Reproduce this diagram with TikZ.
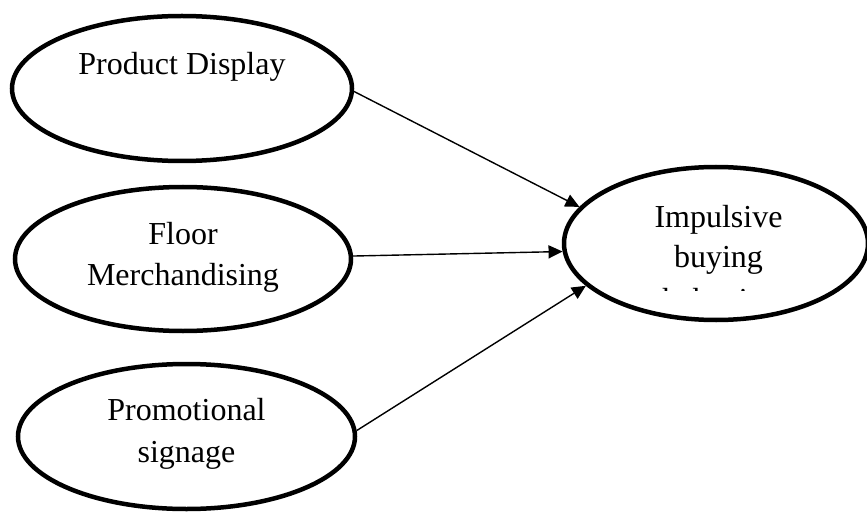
\documentclass[tikz,border=0pt]{standalone}
\usepackage{fontspec}
\setmainfont{Liberation Serif}
\usetikzlibrary{shapes.geometric,arrows.meta}

\tikzset{
  factor/.style={draw=black, line width=4.5pt, ellipse, inner sep=0pt},
  caption/.style={anchor=base, inner sep=0pt, font=\fontsize{32}{40}\selectfont},
  link/.style={line width=1.4pt, -{Triangle[length=14pt,width=13pt]}}
}

\begin{document}
\begin{tikzpicture}[x=1pt, y=-1pt]
  \useasboundingbox (0,0) rectangle (867,513);
  \clip (0,0) rectangle (867,513);

  % independent factors
  \node[factor, minimum width=340pt, minimum height=145pt] (e1) at (182,88.5) {};
  \node[factor, minimum width=336pt, minimum height=144pt] (e2) at (183,259) {};
  \node[factor, minimum width=337pt, minimum height=145pt] (e3) at (186.5,436.5) {};

  % outcome
  \node[factor, minimum width=304pt, minimum height=153pt] (e4) at (716,243.5) {};

  % labels
  \node[caption] (t1)  at (182,75)    {Product Display};
  \node[caption] (t2a) at (183,244)   {Floor};
  \node[caption] (t2b) at (183,285)   {Merchandising};
  \node[caption] (t3a) at (186.5,420) {Promotional};
  \node[caption] (t3b) at (186.5,462) {signage};
  \node[caption] (t4a) at (718.5,227) {Impulsive};
  \node[caption] (t4b) at (718.5,267) {buying};
  \begin{scope}
    \clip (600,250) rectangle (840,290);
    \node[caption] (t4c) at (718.5,310) {behavior};
  \end{scope}

  % influences
  \draw[link] (e1.-1.5) -- (e4.165.1);
  \draw[link] (e2.1.0)  -- (e4.183.2);
  \draw[link] (e3.2.5)  -- (e4.198.4);
\end{tikzpicture}
\end{document}
